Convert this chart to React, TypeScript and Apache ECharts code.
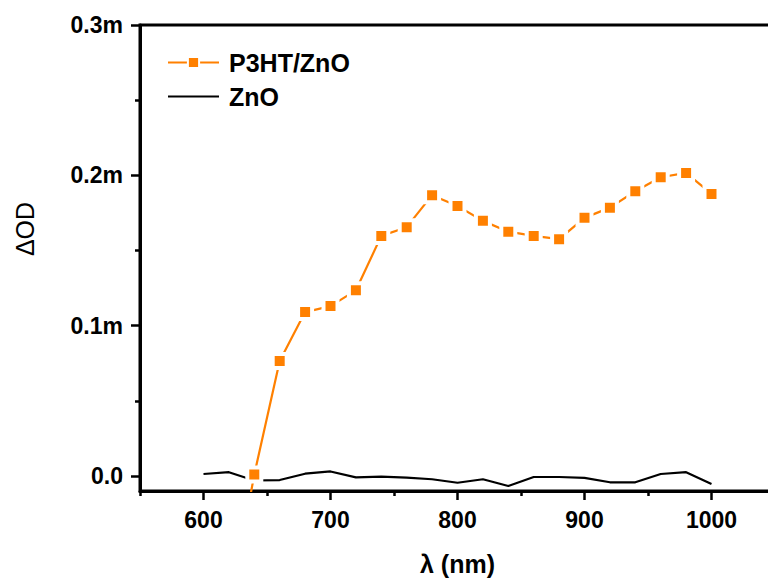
import React, { useEffect, useRef } from "react";
import * as echarts from "echarts";

const wavelengths: number[] = [600, 620, 640, 660, 680, 700, 720, 740, 760, 780, 800, 820, 840, 860, 880, 900, 920, 940, 960, 980, 1000];
const p3htWavelengths: number[] = [620, 640, 660, 680, 700, 720, 740, 760, 780, 800, 820, 840, 860, 880, 900, 920, 940, 960, 980, 1000];
const p3htZnO: number[] = [-0.09, 0.001, 0.0765, 0.109, 0.113, 0.1235, 0.1597, 0.1655, 0.1868, 0.1796, 0.1697, 0.1625, 0.1597, 0.1575, 0.1717, 0.1785, 0.1894, 0.1987, 0.2016, 0.1876];
const znO: number[] = [0.0013, 0.0025, -0.003, -0.0027, 0.0015, 0.003, -0.0009, -0.0004, -0.0011, -0.0022, -0.0045, -0.0022, -0.0067, -0.0007, -0.0007, -0.0013, -0.0042, -0.0042, 0.0013, 0.0025, -0.0053];

const xMajorTicks: number[] = [600, 700, 800, 900, 1000];
const xMinorTicks: number[] = [550, 650, 750, 850, 950, 1050];
const yMajorTicks: number[] = [0, 0.1, 0.2, 0.3];
const yMinorTicks: number[] = [0.05, 0.15, 0.25];

const FONT = "'Liberation Sans', Arial, Helvetica, sans-serif";

export default function App() {
  const ref = useRef<HTMLDivElement>(null);
  useEffect(() => {
    if (!ref.current) return;
    const chart = echarts.init(ref.current, null, { renderer: "svg" });
    const orange = "#ff8000";
    chart.setOption({
      animation: false,
      backgroundColor: "#ffffff",
      grid: {
        left: 140,
        top: 25,
        width: 635,
        height: 466,
        outerBoundsMode: "none",
        containLabel: false,
        show: true,
        borderColor: "#000",
        borderWidth: 3,
        backgroundColor: "transparent",
      },
      legend: {
        orient: "vertical",
        left: 162,
        top: 45,
        itemWidth: 51,
        itemHeight: 14,
        itemGap: 9,
        textStyle: { fontFamily: FONT, fontWeight: "bold", fontSize: 25, color: "#000", padding: [0, 0, 0, 5] },
        data: [{ name: "P3HT/ZnO" }, { name: "ZnO", itemStyle: { opacity: 0 } }],
      },
      xAxis: [
        {
          type: "value",
          min: 550,
          max: 1050,
          position: "bottom",
          name: "λ (nm)",
          nameLocation: "middle",
          nameGap: 60,
          nameTextStyle: { fontFamily: FONT, fontWeight: "bold", fontSize: 25, color: "#000" },
          axisLine: { show: true, onZero: false, lineStyle: { color: "#000", width: 3 } },
          axisTick: { show: true, customValues: xMajorTicks, length: 9, lineStyle: { color: "#000", width: 2.5 } },
          axisLabel: {
            customValues: xMajorTicks,
            margin: 17,
            fontFamily: FONT,
            fontWeight: "bold",
            fontSize: 23,
            color: "#000",
            formatter: (v: number) => String(v),
          },
          splitLine: { show: false },
        },
        {
          type: "value",
          min: 550,
          max: 1050,
          position: "bottom",
          axisLine: { show: false, onZero: false },
          axisTick: { show: true, customValues: xMinorTicks, length: 5, lineStyle: { color: "#000", width: 2.5 } },
          axisLabel: { show: false },
          splitLine: { show: false },
        },
      ],
      yAxis: [
        {
          type: "value",
          min: -0.01,
          max: 0.3,
          position: "left",
          name: "ΔOD",
          nameLocation: "middle",
          nameRotate: 90,
          nameGap: 103,
          nameTextStyle: { fontFamily: FONT, fontWeight: "normal", fontSize: 25, color: "#000", padding: [0, 0, 0, 58] },
          axisLine: { show: true, onZero: false, lineStyle: { color: "#000", width: 3 } },
          axisTick: { show: true, customValues: yMajorTicks, length: 9, lineStyle: { color: "#000", width: 2.5 } },
          axisLabel: {
            customValues: yMajorTicks,
            margin: 17,
            fontFamily: FONT,
            fontWeight: "bold",
            fontSize: 23,
            color: "#000",
            formatter: (v: number) => (Math.abs(v) < 1e-9 ? "0.0" : v.toFixed(1) + "m"),
          },
          splitLine: { show: false },
        },
        {
          type: "value",
          min: -0.01,
          max: 0.3,
          position: "left",
          axisLine: { show: false, onZero: false },
          axisTick: { show: true, customValues: yMinorTicks, length: 5, lineStyle: { color: "#000", width: 2.5 } },
          axisLabel: { show: false },
          splitLine: { show: false },
        },
      ],
      graphic: [
        { type: "rect", left: 120, top: 472, shape: { width: 2, height: 10 }, style: { fill: "#999" } },
      ],
      series: [
        {
          name: "ZnO",
          type: "line",
          xAxisIndex: 0,
          yAxisIndex: 0,
          data: wavelengths.map((w, i) => [w, znO[i]]),
          symbol: "circle",
          showSymbol: false,
          lineStyle: { color: "#000", width: 2.2 },
          itemStyle: { color: "#000" },
          z: 2,
        },
        {
          name: "P3HT/ZnO",
          type: "line",
          xAxisIndex: 0,
          yAxisIndex: 0,
          data: p3htWavelengths.map((w, i) => [w, p3htZnO[i]]),
          symbol: "rect",
          symbolSize: 14,
          showAllSymbol: true,
          lineStyle: { color: orange, width: 2.2 },
          itemStyle: { color: orange, borderColor: "#fff", borderWidth: 4 },
          clip: true,
          z: 3,
        },
      ],
    });
    return () => chart.dispose();
  }, []);
  return <div ref={ref} style={{ position: "fixed", left: 0, top: 0, width: 768, height: 579 }} />;
}
